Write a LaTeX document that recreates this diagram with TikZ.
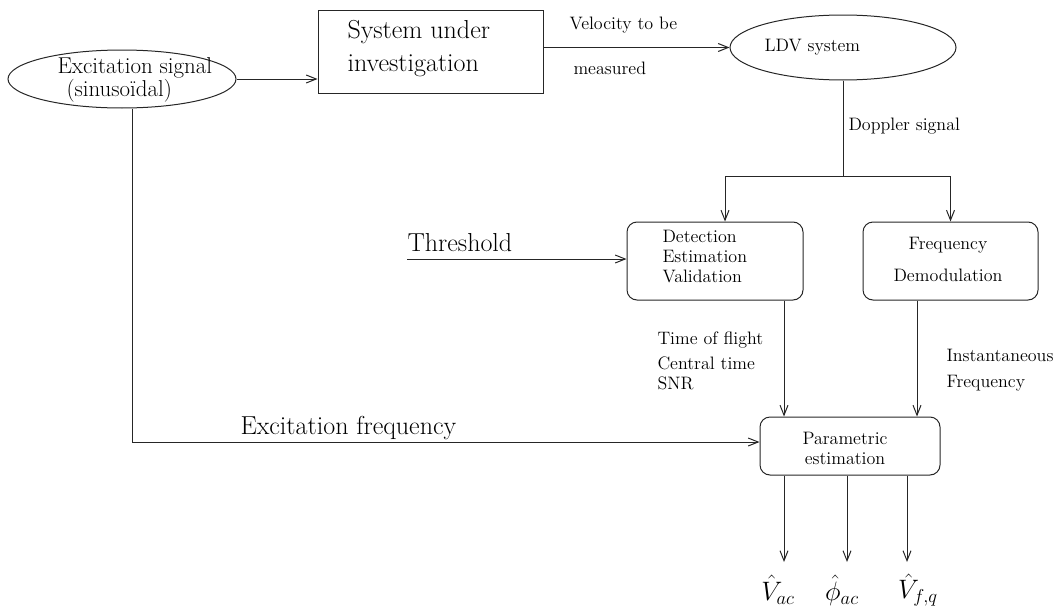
\RequirePackage{fix-cm}
\documentclass[tikz,border=0pt]{standalone}
\usetikzlibrary{arrows.meta,shapes.geometric,calc}
\begin{document}
\begin{tikzpicture}[x=0.75pt,y=-0.75pt,
  line width=0.75pt, draw=black!85,
  arr/.style={-{Straight Barb[length=7.5pt,width=6pt]}},
  ell/.style={draw,ellipse,inner sep=0pt},
  rbox/.style={draw,rounded corners=7.5pt,inner sep=0pt},
  sbox/.style={draw,inner sep=0pt},
  small/.style={font=\fontsize{13.5}{15}\selectfont,inner sep=0pt},
  cmlab/.style={font=\fontsize{19.5}{20}\selectfont,inner sep=0pt,anchor=west},
  mathlab/.style={font=\fontsize{20}{24}\selectfont,inner sep=0pt}
]
\useasboundingbox (0,0) rectangle (1056,614);

% shapes
\node[ell,minimum width=171pt,minimum height=43.5pt] (E1) at (122,79) {};
\node[sbox,minimum width=168.75pt,minimum height=62.25pt] (SU) at (430.5,51.5) {};
\node[ell,minimum width=169.5pt,minimum height=48.75pt] (LDV) at (843,47.5) {};
\node[rbox,minimum width=132pt,minimum height=58.5pt] (DEV) at (715,261) {};
\node[rbox,minimum width=131.25pt,minimum height=58.5pt] (FD) at (950.5,261) {};
\node[rbox,minimum width=135pt,minimum height=43.5pt] (PE) at (850,446) {};

% texts
\node[inner sep=0pt,anchor=west,align=left,font=\fontsize{17.2}{15.5}\selectfont] (e1t) at (57,80) {Excitation signal\\\hspace*{6.75pt}(sinuso\"{\i}dal)};
\node[inner sep=0pt,anchor=west,align=left,font=\fontsize{19.5}{24.75}\selectfont] (sut) at (347,48.5) {System under\\investigation};
\node[small,anchor=west] (ldvt) at (764,47) {LDV system};
\node[small,anchor=west] (velt) at (569,25) {Velocity to be};
\node[small,anchor=west] (meast) at (573,68) {measured};
\node[small,anchor=west] (dopt) at (848,126) {Doppler signal};
\node[cmlab] (thrt) at (407,243) {Threshold};
\node[small,anchor=west,align=left] (devt) at (662,257) {Detection\\Estimation\\Validation};
\node[small,align=center,font=\fontsize{13.5}{24}\selectfont] (fdt) at (948,259) {Frequency\\Demodulation};
\node[small,anchor=west,align=left] (toft) at (657,361) {Time of flight\\[3.75pt]Central time\\SNR};
\node[small,anchor=west,align=left,font=\fontsize{13.5}{19.5}\selectfont] (instt) at (946,370) {Instantaneous\\Frequency};
\node[small,align=center] (pet) at (845,448) {Parametric\\estimation};
\node[cmlab] (excft) at (240,428) {Excitation frequency};
\node[mathlab] (o1t) at (778,590) {$\hat{V}_{ac}$};
\node[mathlab] (o2t) at (842,590) {$\hat{\phi}_{ac}$};
\node[mathlab] (o3t) at (918,590) {$\hat{V}_{f,q}$};

% helper coordinates
\coordinate (br) at (843,176);
\coordinate (thrs) at (407,259);
\coordinate (xa) at (784,0);
\coordinate (xb) at (917,0);
\coordinate (o1) at (784,562);
\coordinate (o2) at (847,562);
\coordinate (o3) at (907,562);

% connectors
\draw[arr] (E1.east) -- (E1.east -| SU.west);
\draw[arr] (LDV.west -| SU.east) -- (LDV.west);
\draw (LDV.south) -- (br);
\draw[arr] (br) -| ($(DEV.north)+(10,0)$);
\draw[arr] (br) -| (FD.north);
\draw[arr] (thrs) -- (thrs -| DEV.west);
\draw[arr] (DEV.south -| xa) -- (xa |- PE.north);
\draw[arr] (FD.south -| xb) -- (xb |- PE.north);
\draw[arr] ($(E1.south)+(10,0)$) |- ($(PE.west)+(0,-4)$);
\draw[arr] (PE.south -| o1) -- (o1);
\draw[arr] (PE.south -| o2) -- (o2);
\draw[arr] (PE.south -| o3) -- (o3);
\end{tikzpicture}
\end{document}
